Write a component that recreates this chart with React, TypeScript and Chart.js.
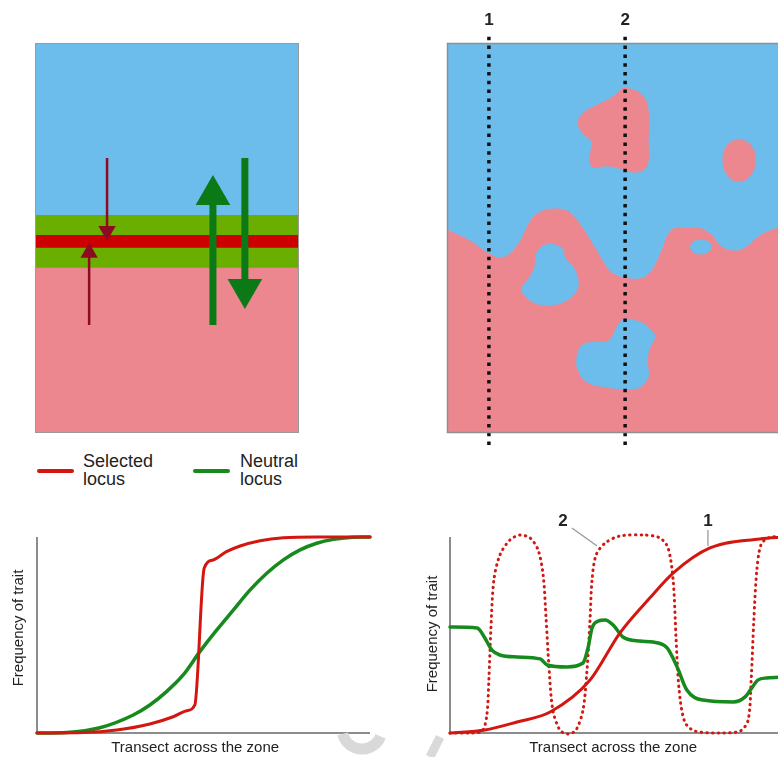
import React, { useEffect, useRef } from "react";
import { Chart, registerables } from "chart.js";

Chart.register(...registerables);

const FONT = '"Liberation Sans", Arial, Helvetica, sans-serif';

type Pt = [number, number];

// ---------- Panel A: the hybrid zone (percent of zone height, measured from the bottom) ----------
const zoneLabels = ["Zone"];
const bandNames = ["Pink habitat", "Neutral cline (lower)", "Selected cline", "Neutral cline (upper)", "Blue habitat"];
const bandHeights = [42.3, 5.1, 3.3, 5.1, 44.2];
const selectedArrowDown: Pt[] = [[27.3, 70.5], [27.3, 51.8]];
const selectedArrowUp: Pt[] = [[20.5, 27.7], [20.5, 46.2]];
const neutralArrowUp: Pt[] = [[67.4, 27.7], [67.4, 61.0]];
const neutralArrowDown: Pt[] = [[79.5, 70.5], [79.5, 36.9]];
const legendLabels = [["Selected", "locus"], ["Neutral", "locus"]];

// ---------- Panel B: mosaic map (x: across the zone, y: along the zone) ----------
const mapBoundary: Pt[] = [
  [0, 52.3], [6.8, 49.5], [12.4, 46.2], [15.7, 45.1], [18.6, 46.2], [21.6, 49.5], [24.6, 54.6],
  [28.4, 57.2], [32.5, 57.7], [36.4, 56.7], [40.2, 52.8], [44.4, 46.9], [48.2, 41.8], [52.1, 40.0],
  [56.2, 39.7], [60.1, 41.3], [63.0, 46.2], [65.4, 51.3], [68.9, 52.8], [74.0, 52.8], [77.8, 51.3],
  [81.7, 47.7], [85.8, 46.9], [89.1, 48.2], [92.6, 50.8], [97.9, 52.8], [100, 53.1],
];
const pinkPatchUpper: Pt[] = [
  [53.3, 88.5], [57.7, 86.7], [59.5, 82.8], [59.5, 75.1], [59.2, 68.7], [56.2, 66.9], [52.1, 67.7],
  [47.3, 68.5], [43.2, 68.2], [42.3, 70.8], [42.9, 74.6], [40.2, 76.9], [38.8, 79.7], [40.8, 82.3],
  [45.3, 84.4], [49.1, 86.2], [51.8, 88.2], [53.3, 88.5],
];
const pinkPatchRound: Pt[] = [
  [86.4, 75.4], [89.7, 73.9], [91.1, 70.0], [89.7, 66.1], [86.4, 64.6], [83.1, 66.1], [81.7, 70.0],
  [83.1, 73.9], [86.4, 75.4],
];
const bluePatchLeft: Pt[] = [
  [30.5, 48.5], [34.0, 47.4], [34.9, 44.9], [37.3, 42.6], [38.8, 38.7], [37.9, 35.9], [34.3, 33.6],
  [29.9, 32.8], [25.4, 33.6], [22.5, 35.9], [22.2, 37.4], [24.6, 40.0], [26.0, 42.6], [26.6, 46.2],
  [28.4, 47.9], [30.5, 48.5],
];
const bluePatchLower: Pt[] = [
  [53.6, 29.2], [57.7, 28.2], [60.9, 25.9], [61.5, 24.6], [60.1, 22.1], [59.2, 18.7], [59.5, 14.4],
  [57.1, 11.8], [52.1, 11.3], [47.3, 11.8], [41.4, 13.1], [38.8, 16.2], [38.5, 19.5], [40.2, 22.6],
  [45.3, 23.3], [48.2, 23.8], [50.3, 27.2], [52.1, 29.0], [53.6, 29.2],
];
const bluePatchSmall: Pt[] = [
  [75.1, 49.5], [77.2, 49.0], [78.1, 47.7], [77.2, 46.4], [75.1, 45.9], [73.0, 46.4], [72.1, 47.7],
  [73.0, 49.0], [75.1, 49.5],
];
const transectPositions = [12.4, 52.7];
const transectLabels = ["1", "2"];
const transectExtent = [-3.1, 102.8];

// ---------- Panel C: clines across a simple zone (x: transect 0-100, y: frequency 0-1) ----------
const selectedCline: Pt[] = [
  [0, 0], [13.9, 0.002], [23.9, 0.015], [33.9, 0.046], [40.9, 0.083], [45, 0.114], [47.4, 0.143],
  [50.2, 0.84], [52.9, 0.883], [56.9, 0.925], [61, 0.954], [67, 0.981], [74, 0.996], [84, 1.0], [100, 1.0],
];
const neutralCline: Pt[] = [
  [0, 0], [8.9, 0.003], [18.9, 0.027], [28.9, 0.092], [33.9, 0.143], [38.9, 0.211], [43.9, 0.296],
  [48.9, 0.415], [54, 0.526], [59, 0.628], [64, 0.73], [69, 0.815], [74, 0.883], [79, 0.934],
  [84, 0.968], [89, 0.988], [94, 0.998], [100, 1.0],
];

// ---------- Panel D: clines across the mosaic zone ----------
const transect1Cline: Pt[] = [
  [0, 0], [10.4, 0.015], [20, 0.056], [29.9, 0.107], [41.8, 0.27], [50.7, 0.51], [59.7, 0.69],
  [66.6, 0.816], [77.6, 0.944], [92.5, 0.99], [100, 1.0],
];
const transect2Cline: Pt[] = [
  [0, 0], [6.0, 0], [9.6, 0.01], [11.0, 0.092], [11.6, 0.27], [12.2, 0.526], [13.1, 0.781],
  [14.9, 0.908], [17.9, 0.985], [20.9, 1.01], [23.9, 0.995], [26.3, 0.934], [27.8, 0.806],
  [28.7, 0.577], [29.6, 0.321], [30.7, 0.117], [32.8, 0.015], [35.2, -0.005], [37.6, 0.015],
  [39.7, 0.117], [40.9, 0.321], [41.8, 0.577], [42.4, 0.781], [43.6, 0.908], [46.3, 0.969],
  [50.7, 1.005], [58.2, 1.01], [62.7, 0.995], [65.1, 0.944], [66.6, 0.781], [67.5, 0.474],
  [68.4, 0.219], [70.1, 0.056], [73.1, 0.01], [80.6, 0], [86.6, 0.01], [89, 0.066], [89.9, 0.27],
  [90.7, 0.577], [91.6, 0.832], [92.8, 0.959], [94.9, 0.995], [100, 1.005],
];
const neutralMosaicCline: Pt[] = [
  [0, 0.541], [8.1, 0.536], [10.4, 0.485], [12.5, 0.423], [14.9, 0.398], [20, 0.388], [26.9, 0.378],
  [29, 0.347], [34.9, 0.337], [39.7, 0.357], [41.2, 0.434], [42.4, 0.536], [44.2, 0.571], [46.3, 0.577],
  [48.7, 0.551], [51.6, 0.49], [56.7, 0.469], [60.6, 0.464], [64.8, 0.434], [67.8, 0.337], [70.7, 0.219],
  [75.5, 0.168], [84.5, 0.158], [88.1, 0.184], [90.1, 0.23], [91.9, 0.27], [94.6, 0.281], [100, 0.286],
];
const curveLabels = ["2", "1"];
const curveLabelAt: Pt[] = [[33.7, 1.082], [77.0, 1.082]];
const curveLeaderFrom: Pt[] = [[36.4, 1.046], [77.0, 1.036]];
const curveLeaderTo: Pt[] = [[43.9, 0.954], [77.0, 0.954]];

const axisTitleX = "Transect across the zone";
const axisTitleY = "Frequency of trait";

// ---------- styles ----------
const BLUE = "#6cbdec";
const PINK = "#ec8790";
const BAND_GREEN = "#6aae00";
const BAND_RED = "#cc0000";
const bandColors = [PINK, BAND_GREEN, BAND_RED, BAND_GREEN, BLUE];
const ARROW_RED = "#8e0a22";
const ARROW_GREEN = "#0b7a16";
const LINE_RED = "#d3160f";
const LINE_GREEN = "#168a1c";
const AXIS = "#8c8c8c";
const TEXT = "#222";
const WATERMARK = "#d9d9d9";

const toXY = (pts: Pt[]) => pts.map(([x, y]) => ({ x, y }));

const baseOptions = (padding: any) => ({
  responsive: false,
  maintainAspectRatio: false,
  animation: false as const,
  devicePixelRatio: 1,
  events: [] as any[],
  layout: { padding, autoPadding: false },
  plugins: { legend: { display: false }, tooltip: { enabled: false } },
});

const framePlugin = (color: string, width: number) => ({
  id: "frame",
  afterDatasetsDraw(chart: any) {
    const { ctx, chartArea: a } = chart;
    ctx.save();
    ctx.strokeStyle = color;
    ctx.lineWidth = width;
    ctx.strokeRect(a.left + 0.5, a.top + 0.5, a.right - a.left - 1, a.bottom - a.top - 1);
    ctx.restore();
  },
});

function arrowDataset(pts: Pt[], color: string, width: number, head: number, down: boolean) {
  return {
    type: "line" as const,
    label: "arrow",
    data: toXY(pts),
    xAxisID: "x2",
    yAxisID: "y",
    borderColor: color,
    borderWidth: width,
    borderCapStyle: "butt",
    pointRadius: [0, head],
    pointStyle: "triangle",
    pointRotation: [0, down ? 180 : 0],
    pointBackgroundColor: color,
    pointBorderWidth: 0,
    order: 0,
  };
}

function zoneConfig(): any {
  let acc = 0;
  const ranges = bandHeights.map((h) => {
    const r = [acc, acc + h];
    acc += h;
    return r;
  });
  return {
    type: "bar",
    data: {
      labels: zoneLabels,
      datasets: [
        ...bandNames.map((name, i) => ({
          type: "bar",
          label: name,
          data: [ranges[i]],
          backgroundColor: bandColors[i],
          borderWidth: 0,
          barPercentage: 1,
          categoryPercentage: 1,
          grouped: false,
          xAxisID: "x",
          yAxisID: "y",
          order: 1,
        })),
        arrowDataset(selectedArrowDown, ARROW_RED, 2.5, 10, true),
        arrowDataset(selectedArrowUp, ARROW_RED, 2.5, 10, false),
        arrowDataset(neutralArrowUp, ARROW_GREEN, 7, 20, false),
        arrowDataset(neutralArrowDown, ARROW_GREEN, 7, 20, true),
      ],
    },
    options: {
      ...baseOptions({ left: 35, top: 43, right: 21, bottom: 7 }),
      scales: {
        x: { type: "category", display: false },
        x2: { type: "linear", min: 0, max: 100, display: false, offset: false, position: "bottom" },
        y: { type: "linear", min: 0, max: 100, display: false },
      },
    },
    plugins: [framePlugin("#9a9a9a", 1)],
  };
}

function areaDataset(label: string, pts: Pt[], color: string, fill: any, order: number, smooth: "monotone" | number) {
  return {
    label,
    data: toXY(pts),
    fill,
    backgroundColor: color,
    borderColor: color,
    borderWidth: 1,
    pointRadius: 0,
    ...(smooth === "monotone" ? { cubicInterpolationMode: "monotone" } : { tension: smooth }),
    order,
  };
}

function mapConfig(): any {
  const transectPlugin = {
    id: "transectLabels",
    afterDatasetsDraw(chart: any) {
      const { ctx, scales } = chart;
      ctx.save();
      ctx.fillStyle = TEXT;
      ctx.font = `bold 17px ${FONT}`;
      ctx.textAlign = "center";
      ctx.textBaseline = "alphabetic";
      transectPositions.forEach((p, i) => {
        ctx.fillText(transectLabels[i], scales.x.getPixelForValue(p), scales.y.getPixelForValue(102.8) - 7);
      });
      ctx.restore();
    },
  };
  return {
    type: "line",
    data: {
      datasets: [
        areaDataset("Pink habitat", mapBoundary, PINK, "start", 10, "monotone"),
        areaDataset("Blue habitat", mapBoundary, BLUE, "end", 9, "monotone"),
        areaDataset("Pink patch", pinkPatchUpper, PINK, "shape", 5, 0.4),
        areaDataset("Pink patch", pinkPatchRound, PINK, "shape", 5, 0.5),
        areaDataset("Blue patch", bluePatchLeft, BLUE, "shape", 5, 0.4),
        areaDataset("Blue patch", bluePatchLower, BLUE, "shape", 5, 0.4),
        areaDataset("Blue patch", bluePatchSmall, BLUE, "shape", 5, 0.5),
        ...transectPositions.map((p, i) => ({
          label: "Transect " + transectLabels[i],
          data: toXY(transectExtent.map((e) => [p, e] as Pt)),
          borderColor: "#111",
          borderWidth: 3.5,
          borderDash: [3.5, 5.3],
          borderCapStyle: "butt",
          pointRadius: 0,
          fill: false,
          clip: false,
          order: 0,
        })),
      ],
    },
    options: {
      ...baseOptions({ left: 7, top: 43, right: 0, bottom: 27 }),
      scales: {
        x: { type: "linear", min: 0, max: 100, display: false },
        y: { type: "linear", min: 0, max: 100, display: false },
      },
    },
    plugins: [framePlugin("#8f8f8f", 1.5), transectPlugin],
  };
}

function axesPlugin(titleXFrac: number, titleYOffset: number, titleXOffset: number, extra?: (ctx: any, chart: any) => void) {
  return {
    id: "axesAndTitles",
    beforeDatasetsDraw(chart: any) {
      const { ctx, chartArea: a } = chart;
      ctx.save();
      ctx.strokeStyle = AXIS;
      ctx.lineWidth = 2;
      ctx.beginPath();
      ctx.moveTo(a.left, a.top);
      ctx.lineTo(a.left, a.bottom);
      ctx.lineTo(a.right, a.bottom);
      ctx.stroke();
      ctx.restore();
    },
    afterDraw(chart: any) {
      const { ctx, chartArea: a } = chart;
      ctx.save();
      ctx.fillStyle = TEXT;
      ctx.font = `15px ${FONT}`;
      ctx.textAlign = "center";
      ctx.textBaseline = "alphabetic";
      ctx.fillText(axisTitleX, a.left + (a.right - a.left) * titleXFrac, a.bottom + 19);
      ctx.translate(a.left - titleXOffset, (a.top + a.bottom) / 2 + titleYOffset);
      ctx.rotate(-Math.PI / 2);
      ctx.textBaseline = "middle";
      ctx.fillText(axisTitleY, 0, 0);
      ctx.restore();
      if (extra) {
        ctx.save();
        extra(ctx, chart);
        ctx.restore();
      }
    },
  };
}

function lineDataset(label: string, pts: Pt[], color: string, width: number, order: number, extra: any = {}) {
  return {
    label,
    data: toXY(pts),
    borderColor: color,
    borderWidth: width,
    pointRadius: 0,
    fill: false,
    clip: false,
    borderCapStyle: "round",
    borderJoinStyle: "round",
    order,
    ...extra,
  };
}

function simpleClineConfig(): any {
  return {
    type: "line",
    data: {
      datasets: [
        lineDataset("Selected locus", selectedCline, LINE_RED, 3, 0, { cubicInterpolationMode: "monotone" }),
        lineDataset("Neutral locus", neutralCline, LINE_GREEN, 3.5, 1, { cubicInterpolationMode: "monotone" }),
      ],
    },
    options: {
      ...baseOptions({ left: 37, top: 37, right: 30, bottom: 24 }),
      scales: {
        x: { type: "linear", min: 0, max: 100, display: false },
        y: { type: "linear", min: 0, max: 1, display: false },
      },
    },
    plugins: [
      axesPlugin(0.475, -7, 18, (ctx: any) => {
        ctx.strokeStyle = WATERMARK;
        ctx.lineWidth = 11;
        ctx.beginPath();
        ctx.arc(362, 229, 20, 0.12 * Math.PI, 0.92 * Math.PI);
        ctx.stroke();
      }),
    ],
  };
}

function mosaicClineConfig(): any {
  return {
    type: "line",
    data: {
      datasets: [
        lineDataset("Transect 1", transect1Cline, LINE_RED, 3, 0, { cubicInterpolationMode: "monotone" }),
        lineDataset("Neutral locus", neutralMosaicCline, LINE_GREEN, 3.5, 1, { cubicInterpolationMode: "monotone" }),
        lineDataset("Transect 2", transect2Cline, LINE_RED, 3, 2, {
          tension: 0.3,
          borderDash: [0.5, 5.2],
          borderCapStyle: "round",
        }),
      ],
    },
    options: {
      ...baseOptions({ left: 50, top: 37, right: 0, bottom: 24 }),
      scales: {
        x: { type: "linear", min: 0, max: 100, display: false },
        y: { type: "linear", min: 0, max: 1, display: false },
      },
    },
    plugins: [
      axesPlugin(0.487, -1, 17, (ctx: any, chart: any) => {
        const { x, y } = chart.scales;
        ctx.strokeStyle = "#9a9a9a";
        ctx.lineWidth = 1.3;
        curveLabels.forEach((lab, i) => {
          ctx.beginPath();
          ctx.moveTo(x.getPixelForValue(curveLeaderFrom[i][0]), y.getPixelForValue(curveLeaderFrom[i][1]));
          ctx.lineTo(x.getPixelForValue(curveLeaderTo[i][0]), y.getPixelForValue(curveLeaderTo[i][1]));
          ctx.stroke();
        });
        ctx.fillStyle = TEXT;
        ctx.font = `bold 17px ${FONT}`;
        ctx.textAlign = "center";
        ctx.textBaseline = "middle";
        curveLabels.forEach((lab, i) => {
          ctx.fillText(lab, x.getPixelForValue(curveLabelAt[i][0]), y.getPixelForValue(curveLabelAt[i][1]));
        });
        ctx.strokeStyle = WATERMARK;
        ctx.lineWidth = 9;
        ctx.beginPath();
        ctx.moveTo(40, 237);
        ctx.lineTo(30, 257);
        ctx.stroke();
      }),
    ],
  };
}

function ChartCanvas(props: { left: number; top: number; width: number; height: number; make: () => any }) {
  const ref = useRef<HTMLCanvasElement>(null);
  useEffect(() => {
    const chart = new Chart(ref.current as HTMLCanvasElement, props.make());
    return () => chart.destroy();
  }, []);
  return (
    <canvas
      ref={ref}
      width={props.width}
      height={props.height}
      style={{ position: "absolute", left: props.left, top: props.top, width: props.width, height: props.height }}
    />
  );
}

export default function App() {
  const legendColors = [LINE_RED, LINE_GREEN];
  const legendLineLeft = [37, 193];
  const legendTextLeft = [83, 240];
  return (
    <div
      style={{
        position: "fixed",
        left: 0,
        top: 0,
        width: 778,
        height: 757,
        overflow: "hidden",
        background: "#fff",
        fontFamily: FONT,
      }}
    >
      <ChartCanvas left={0} top={0} width={320} height={440} make={zoneConfig} />
      <ChartCanvas left={440} top={0} width={345} height={460} make={mapConfig} />
      <ChartCanvas left={0} top={500} width={400} height={257} make={simpleClineConfig} />
      <ChartCanvas left={400} top={500} width={385} height={257} make={mosaicClineConfig} />
      {legendLabels.map((lines, i) => (
        <React.Fragment key={i}>
          <div
            style={{
              position: "absolute",
              left: legendLineLeft[i],
              top: 469,
              width: 37,
              height: 4,
              borderRadius: 2,
              background: legendColors[i],
            }}
          />
          <div
            style={{
              position: "absolute",
              left: legendTextLeft[i],
              top: 452,
              fontSize: 18,
              lineHeight: "18px",
              color: TEXT,
              whiteSpace: "nowrap",
            }}
          >
            {lines[0]}
            <br />
            {lines[1]}
          </div>
        </React.Fragment>
      ))}
    </div>
  );
}
